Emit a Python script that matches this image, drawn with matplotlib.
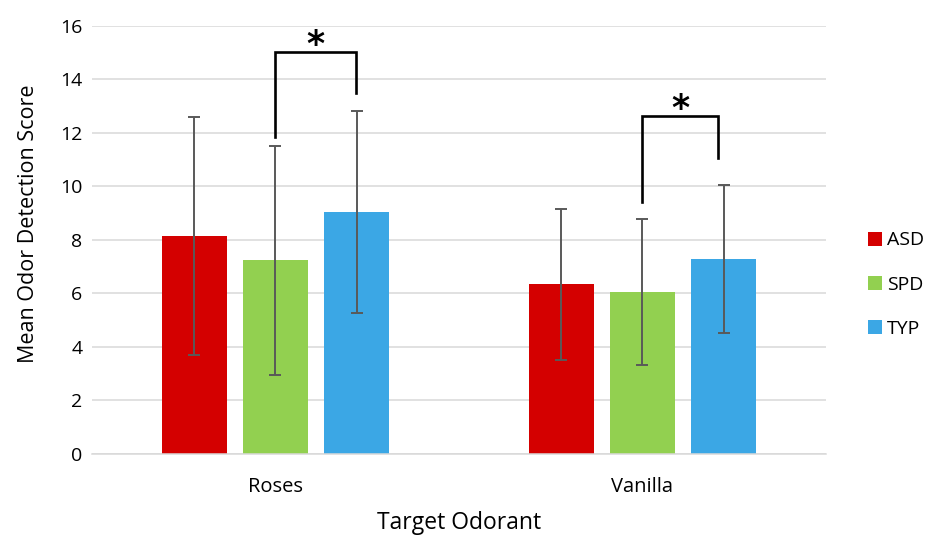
import matplotlib
matplotlib.use('Agg')
import matplotlib.pyplot as plt
import numpy as np

plt.rcParams['font.family'] = ['Open Sans', 'DejaVu Sans']

# 数据
odorants = ['Roses', 'Vanilla']
groups = ['ASD', 'SPD', 'TYP']
asd_mean = [8.14, 6.34]
spd_mean = [7.23, 6.04]
typ_mean = [9.04, 7.28]
asd_sd = [4.45, 2.82]
spd_sd = [4.28, 2.72]
typ_sd = [3.78, 2.76]

# 显著性标记: (顶部高度, 左端下沿, 右端下沿)
sig_roses = (15.03, 11.83, 13.47)
sig_vanilla = (12.62, 9.42, 11.07)

COLORS = {'ASD': '#D40000', 'SPD': '#92D050', 'TYP': '#3BA7E5'}

fig = plt.figure(figsize=(9.29, 5.36), dpi=100)
ax = fig.add_axes([92 / 929, 82.3 / 536, 734 / 929, 428 / 536])

x = np.arange(len(odorants))
offset = 0.221
width = 0.178
means = [asd_mean, spd_mean, typ_mean]
sds = [asd_sd, spd_sd, typ_sd]

for i, g in enumerate(groups):
    xs = x + (i - 1) * offset
    ax.bar(xs, means[i], width, color=COLORS[g], label=g, zorder=2)
    ax.errorbar(xs, means[i], yerr=sds[i], fmt='none', ecolor='#595959',
                elinewidth=1.4, capsize=4.3, capthick=1.4, zorder=3)

# 显著性括号
def bracket(x1, x2, top, y1, y2):
    ax.plot([x1, x1, x2, x2], [y1, top, top, y2], color='black', lw=1.9,
            solid_joinstyle='miter', zorder=4, clip_on=False)
    ax.text((x1 + x2) / 2, top - 0.38, '*', ha='center', va='bottom',
            fontsize=25, fontweight='bold', family='DejaVu Sans', zorder=4)

bracket(x[0], x[0] + offset - 0.003, *sig_roses)
bracket(x[1], x[1] + offset - 0.015, *sig_vanilla)

ax.set_xlim(-0.5, 1.5)
ax.set_ylim(0, 16)
ax.set_yticks(np.arange(0, 17, 2))
ax.set_xticks(x)
ax.set_xticklabels(odorants)
ax.grid(axis='y', color='#D9D9D9', lw=1.1, zorder=0)
ax.set_axisbelow(True)
for s in ['top', 'right', 'left']:
    ax.spines[s].set_visible(False)
ax.spines['bottom'].set_color('#D9D9D9')
ax.spines['bottom'].set_linewidth(1.1)
ax.tick_params(axis='both', length=0, colors='black')
ax.tick_params(axis='y', pad=7, labelsize=14)
ax.tick_params(axis='x', pad=17, labelsize=14.5)

ax.set_ylabel('Mean Odor Detection Score', fontsize=15.5, labelpad=15)
ax.yaxis.label.set_y(0.538)
ax.set_xlabel('Target Odorant', fontsize=16.5, labelpad=10)

ax.legend(loc='center left', bbox_to_anchor=(1.033, 0.395), frameon=False,
          fontsize=14, handlelength=0.72, handleheight=0.72, handletextpad=0.25,
          labelspacing=1.35)

fig.savefig('out.png', dpi=100, facecolor='white')
